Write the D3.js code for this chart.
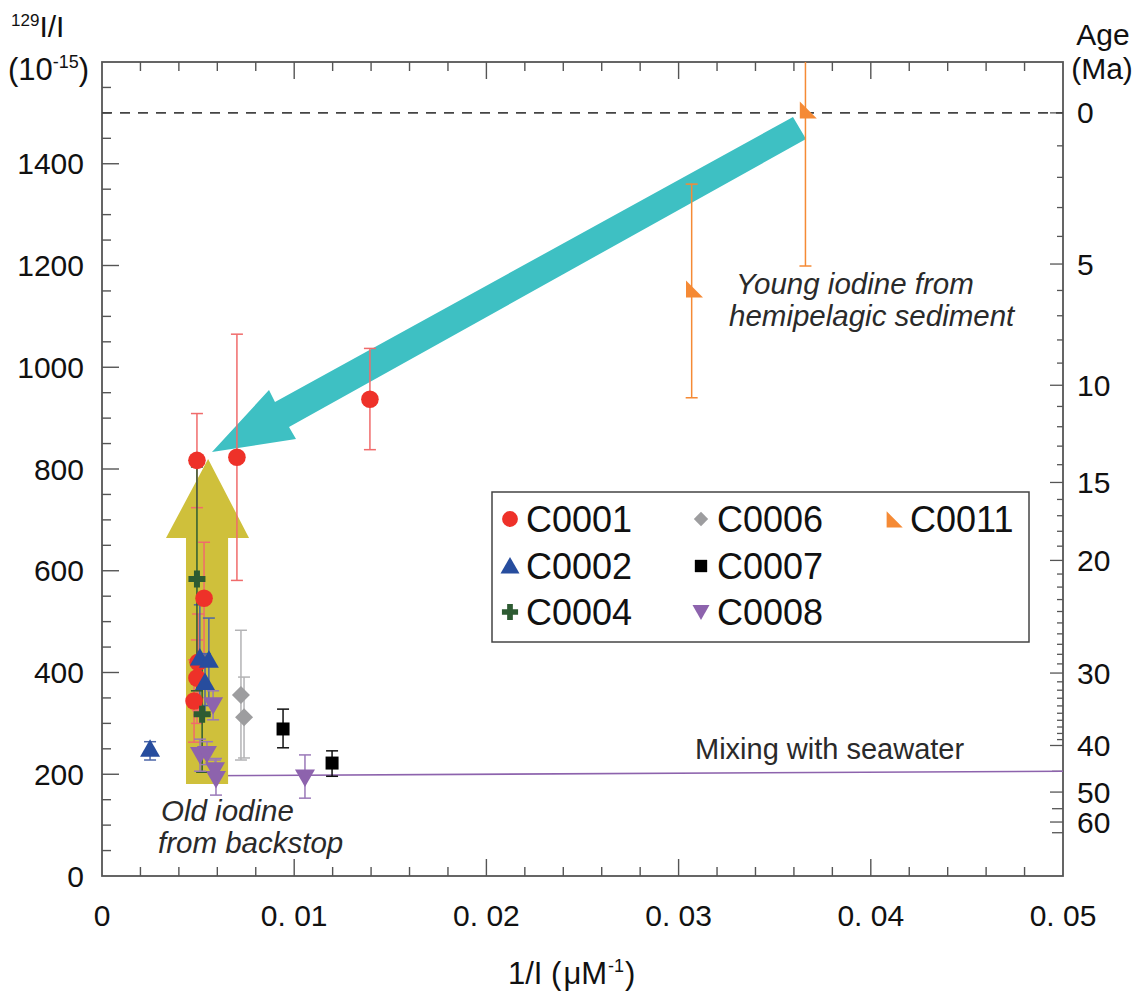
<!DOCTYPE html>
<html><head><meta charset="utf-8">
<script src="https://cdn.jsdelivr.net/npm/d3@7"></script>
<style>
body{margin:0;background:#fff}
svg{display:block}
text{font-family:"Liberation Sans",Arial,Helvetica,sans-serif}
</style>
</head><body>
<svg id="chart" width="1139" height="998"></svg>
<script>
// ---------------- data ----------------
const xTickValues = [0, 0.01, 0.02, 0.03, 0.04, 0.05];
const xTickLabels = ["0", "0. 01", "0. 02", "0. 03", "0. 04", "0. 05"];
const yTickValues = [0, 200, 400, 600, 800, 1000, 1200, 1400];
const ageMajorTicks = [0, 5, 10, 15, 20, 30, 40, 50, 60];
const ageMidTicks = [45, 55, 65];
const ageHalfLife = 15.7;   // Ma
const modernRatio = 1500;   // 129I/I x 10^-15

const c0001 = [
  {x: 0.00494, y: 817, lo: 724, hi: 909},
  {x: 0.00702, y: 823, lo: 581, hi: 1065},
  {x: 0.01394, y: 937, lo: 838, hi: 1037},
  {x: 0.00531, y: 546, lo: 436, hi: 656},
  {x: 0.00500, y: 420, lo: 325, hi: 515},
  {x: 0.00494, y: 389, lo: 300, hi: 464},
  {x: 0.00479, y: 344, lo: 263, hi: 425}
];
const c0002 = [
  {x: 0.00250, y: 246, lo: 228, hi: 264},
  {x: 0.00509, y: 425, lo: 317, hi: 533},
  {x: 0.00556, y: 421, lo: 335, hi: 507},
  {x: 0.00536, y: 377, lo: 317, hi: 437}
];
const c0004 = [
  {x: 0.00494, y: 584, lo: 364, hi: 804},
  {x: 0.00521, y: 318, lo: 204, hi: 420}
];
const c0006 = [
  {x: 0.00723, y: 356, lo: 228, hi: 483},
  {x: 0.00739, y: 312, lo: 232, hi: 391}
];
const c0007 = [
  {x: 0.00942, y: 289, lo: 252, hi: 328},
  {x: 0.01197, y: 222, lo: 196, hi: 246}
];
const c0008 = [
  {x: 0.01056, y: 198, lo: 153, hi: 238},
  {x: 0.00578, y: 340, lo: 307, hi: 364},
  {x: 0.00510, y: 242, lo: 206, hi: 269},
  {x: 0.00546, y: 244, lo: 219, hi: 264},
  {x: 0.00588, y: 212, lo: 198, hi: 228},
  {x: 0.00593, y: 195, lo: 159, hi: 231}
];
const c0011 = [
  {x: 0.03068, y: 1148, lo: 940, hi: 1360},
  {x: 0.03660, y: 1500, lo: 1199, hi: 1800}
];
const mixingLine = [[0.0050, 197], [0.0500, 206]];
const yellowArrow = [[0.00437,180.8],[0.00437,664.4],[0.00333,664.4],[0.00552,819.7],[0.00765,664.4],[0.00656,664.4],[0.00656,180.8]];
const tealArrow = [[0.005723,833.4],[0.008689,955.3],[0.009001,931.7],[0.035952,1491.9],[0.036629,1448.6],[0.009730,882.6],[0.010094,859.0]];

const seriesInfo = [
  {name: "C0001", data: c0001, shape: "circle",   fill: "#EE3129", err: "#F06B6B"},
  {name: "C0002", data: c0002, shape: "triUp",    fill: "#274D9E", err: "#4C66A8"},
  {name: "C0004", data: c0004, shape: "plus",     fill: "#2D5B32", err: "#2D5B32"},
  {name: "C0006", data: c0006, shape: "diamond",  fill: "#9D9D9F", err: "#B3B3B5"},
  {name: "C0007", data: c0007, shape: "square",   fill: "#000000", err: "#111111"},
  {name: "C0008", data: c0008, shape: "triDown",  fill: "#8D63AD", err: "#9A78B8"},
  {name: "C0011", data: c0011, shape: "rightTri", fill: "#F58A35", err: "#F58A35"}
];

// ---------------- layout ----------------
const L = 102, R = 1063, T = 62, B = 876;
const x = d3.scaleLinear().domain([0, 0.05]).range([L, R]);
const y = d3.scaleLinear().domain([0, 1600]).range([B, T]);
const ageToRatio = a => modernRatio * Math.pow(2, -a / ageHalfLife);

const svg = d3.select("#chart");
svg.append("defs").append("clipPath").attr("id", "plotClip")
  .append("rect").attr("x", L).attr("y", T).attr("width", R - L).attr("height", B - T);

const axisCol = "#555";
// ticks
const g = svg.append("g");
const xMinor = d3.range(0, 0.0501, 0.002);
xMinor.forEach(v => {
  const isMajor = Math.abs(v / 0.01 - Math.round(v / 0.01)) < 1e-6;
  const len = isMajor ? 17 : 9;
  if (v > 0 && v < 0.0499) {
    g.append("line").attr("x1", x(v)).attr("x2", x(v)).attr("y1", B).attr("y2", B - len)
      .attr("stroke", axisCol).attr("stroke-width", 1.4);
    g.append("line").attr("x1", x(v)).attr("x2", x(v)).attr("y1", T).attr("y2", T + len)
      .attr("stroke", axisCol).attr("stroke-width", 1.4);
  }
});
d3.range(50, 1600, 50).forEach(v => {
  const len = v % 200 === 0 ? 17 : 9;
  g.append("line").attr("x1", L).attr("x2", L + len).attr("y1", y(v)).attr("y2", y(v))
    .attr("stroke", axisCol).attr("stroke-width", 1.4);
});
// age ticks
d3.range(1, 40).filter(a => !ageMajorTicks.includes(a)).forEach(a => {
  g.append("line").attr("x1", R).attr("x2", R - 6).attr("y1", y(ageToRatio(a))).attr("y2", y(ageToRatio(a)))
    .attr("stroke", axisCol).attr("stroke-width", 1.3);
});
ageMidTicks.forEach(a => {
  g.append("line").attr("x1", R).attr("x2", R - 11).attr("y1", y(ageToRatio(a))).attr("y2", y(ageToRatio(a)))
    .attr("stroke", axisCol).attr("stroke-width", 1.3);
});
ageMajorTicks.forEach(a => {
  g.append("line").attr("x1", R).attr("x2", R - 13).attr("y1", y(ageToRatio(a))).attr("y2", y(ageToRatio(a)))
    .attr("stroke", axisCol).attr("stroke-width", 1.3);
});

// frame
svg.append("rect").attr("x", L).attr("y", T).attr("width", R - L).attr("height", B - T)
  .attr("fill", "none").attr("stroke", axisCol).attr("stroke-width", 1.8);

// tick labels
const lab = svg.append("g").attr("font-size", 30).attr("fill", "#111");
xTickValues.forEach((v, i) => {
  lab.append("text").attr("x", x(v)).attr("y", 926).attr("text-anchor", "middle").text(xTickLabels[i]);
});
yTickValues.forEach(v => {
  lab.append("text").attr("x", 84).attr("y", y(v) + 10.5).attr("text-anchor", "end").text(v);
});
ageMajorTicks.forEach(a => {
  lab.append("text").attr("x", 1077).attr("y", y(ageToRatio(a)) + 10.5).attr("text-anchor", "start").text(a);
});

// axis titles
const t1 = svg.append("text").attr("x", 11).attr("y", 37).attr("fill", "#111");
t1.append("tspan").attr("font-size", 17).attr("dy", -11).text("129");
t1.append("tspan").attr("font-size", 30).attr("dy", 11).text("I/I");
const t2 = svg.append("text").attr("x", 8).attr("y", 80).attr("fill", "#111");
t2.append("tspan").attr("font-size", 31).text("(10");
t2.append("tspan").attr("font-size", 18).attr("dy", -12).text("-15");
t2.append("tspan").attr("font-size", 31).attr("dy", 12).text(")");
svg.append("text").attr("x", 1103).attr("y", 45).attr("text-anchor", "middle").attr("font-size", 30).attr("fill", "#111").text("Age");
svg.append("text").attr("x", 1102).attr("y", 79).attr("text-anchor", "middle").attr("font-size", 30).attr("fill", "#111").text("(Ma)");
const t3 = svg.append("text").attr("x", 508).attr("y", 984).attr("fill", "#111");
t3.append("tspan").attr("font-size", 31).text("1/I (");
t3.append("tspan").attr("font-size", 31).attr("dx", 2).text("\u03BCM");
t3.append("tspan").attr("font-size", 18).attr("dy", -12).attr("dx", 1).text("-1");
t3.append("tspan").attr("font-size", 31).attr("dy", 12).attr("dx", 1).text(")");

// plot content
const plot = svg.append("g").attr("clip-path", "url(#plotClip)");
plot.append("line").attr("x1", L).attr("x2", R).attr("y1", y(1500)).attr("y2", y(1500))
  .attr("stroke", "#444").attr("stroke-width", 1.6).attr("stroke-dasharray", "10,8");
plot.append("line").attr("x1", x(mixingLine[0][0])).attr("y1", y(mixingLine[0][1]))
  .attr("x2", x(mixingLine[1][0])).attr("y2", y(mixingLine[1][1]))
  .attr("stroke", "#8D63AD").attr("stroke-width", 1.6);

const poly = d3.line().x(d => x(d[0])).y(d => y(d[1]));
plot.append("path").attr("d", poly(yellowArrow) + "Z").attr("fill", "#CFC03B");
plot.append("path").attr("d", poly(tealArrow) + "Z").attr("fill", "#3EC0C3");

// symbol paths
function shapePath(shape, s) {
  switch (shape) {
    case "circle": { const r = 8.8 * s; return `M${-r},0A${r},${r} 0 1,0 ${r},0A${r},${r} 0 1,0 ${-r},0Z`; }
    case "triUp": { const w = 10 * s, h = 17.5 * s; return `M0,${-2*h/3}L${w},${h/3}L${-w},${h/3}Z`; }
    case "triDown": { const w = 10 * s, h = 17.5 * s; return `M0,${2*h/3}L${w},${-h/3}L${-w},${-h/3}Z`; }
    case "diamond": { const r = 9 * s; return `M0,${-r}L${r},0L0,${r}L${-r},0Z`; }
    case "square": { const r = 6.5 * s; return `M${-r},${-r}H${r}V${r}H${-r}Z`; }
    case "plus": { const a = 8.5 * s, b = 3 * s; return `M${-b},${-a}H${b}V${-b}H${a}V${b}H${b}V${a}H${-b}V${b}H${-a}V${-b}H${-b}Z`; }
    case "rightTri": { const w = 17 * s, h = 17 * s; return `M${-w/3},${-2*h/3}L${2*w/3},${h/3}L${-w/3},${h/3}Z`; }
  }
}

// error bars
const errG = plot.append("g");
seriesInfo.forEach(si => {
  si.data.forEach(d => {
    const cx = x(d.x);
    errG.append("line").attr("x1", cx).attr("x2", cx).attr("y1", y(d.lo)).attr("y2", y(d.hi))
      .attr("stroke", si.err).attr("stroke-width", 1.5);
    [d.lo, d.hi].forEach(v => {
      errG.append("line").attr("x1", cx - 6).attr("x2", cx + 6).attr("y1", y(v)).attr("y2", y(v))
        .attr("stroke", si.err).attr("stroke-width", 1.5);
    });
  });
});
// markers
const mkG = plot.append("g");
seriesInfo.forEach(si => {
  mkG.selectAll(null).data(si.data).enter().append("path")
    .attr("transform", d => `translate(${x(d.x)},${y(d.y)})`)
    .attr("d", shapePath(si.shape, 1)).attr("fill", si.fill);
});

// legend
const leg = svg.append("g");
leg.append("rect").attr("x", 492).attr("y", 492).attr("width", 537).attr("height", 150)
  .attr("fill", "#fff").attr("stroke", "#444").attr("stroke-width", 1.5);
const legCols = [510, 701, 894], legRows = [519, 566, 612];
const legPos = [[0,0],[0,1],[0,2],[1,0],[1,1],[1,2],[2,0]];
seriesInfo.forEach((si, i) => {
  const [c, r] = legPos[i];
  const lx = legCols[c], ly = legRows[r];
  const sc = si.shape === "circle" ? 0.9 : si.shape === "diamond" ? 0.8 : si.shape === "square" ? 0.95 : si.shape === "triDown" ? 0.85 : 0.95;
  const oy = si.shape === "triUp" ? 2 : si.shape === "triDown" ? -2 : si.shape === "rightTri" ? 3 : 0;
  const ox = si.shape === "rightTri" ? -2 : 0;
  leg.append("path").attr("transform", `translate(${lx + ox},${ly + oy})`).attr("d", shapePath(si.shape, sc)).attr("fill", si.fill);
  leg.append("text").attr("x", lx + 16).attr("y", ly + 12.5).attr("font-size", 36).attr("fill", "#111").text(si.name);
});

// annotations
const ann = svg.append("g").attr("fill", "#2a2a2a");
ann.append("text").attr("x", 736).attr("y", 294).attr("font-size", 29.5).attr("font-style", "italic").text("Young iodine from");
ann.append("text").attr("x", 729).attr("y", 326).attr("font-size", 29.5).attr("font-style", "italic").text("hemipelagic sediment");
ann.append("text").attr("x", 161).attr("y", 821).attr("font-size", 29.5).attr("font-style", "italic").text("Old iodine");
ann.append("text").attr("x", 158).attr("y", 853).attr("font-size", 29.5).attr("font-style", "italic").text("from backstop");
ann.append("text").attr("x", 695).attr("y", 759).attr("font-size", 29).text("Mixing with seawater");
</script>
</body></html>
